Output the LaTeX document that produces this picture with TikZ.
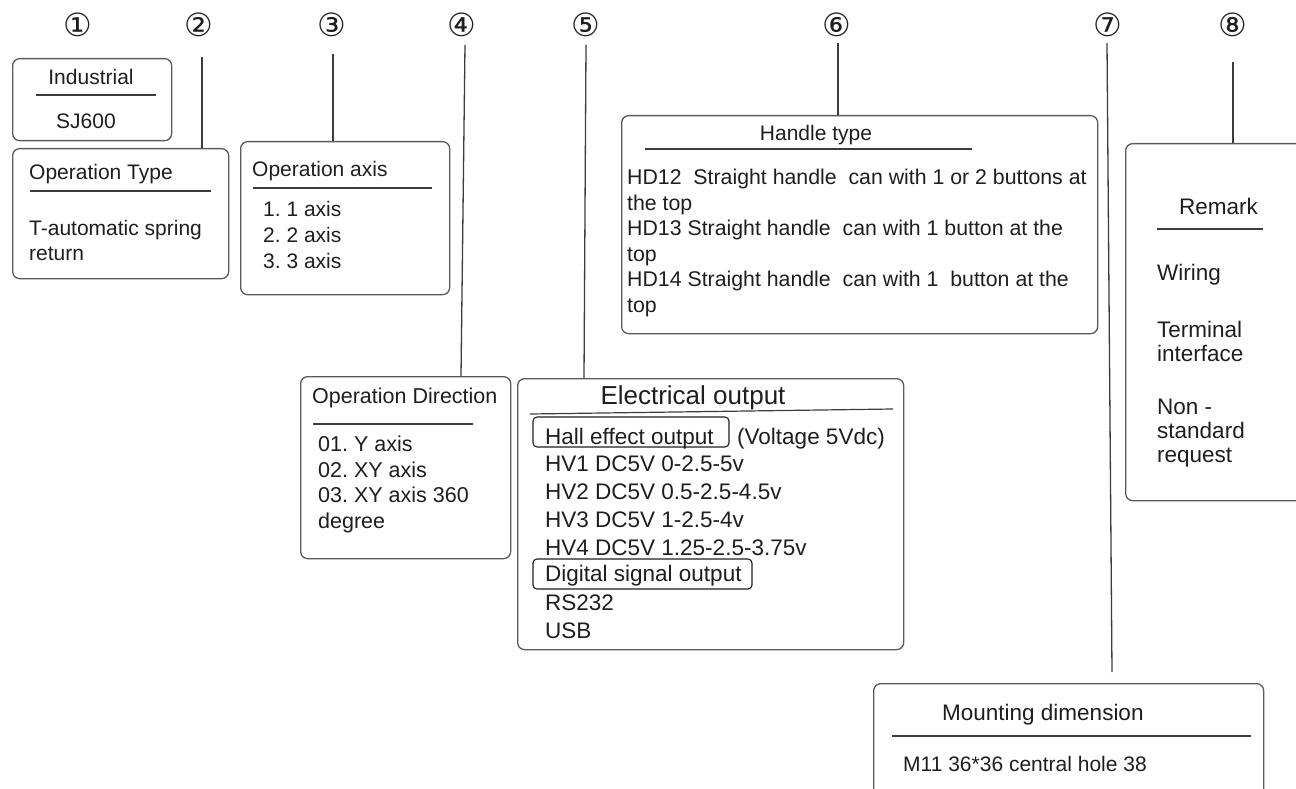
\documentclass[tikz,border=0pt]{standalone}
\usepackage{fontspec}
\setmainfont{Liberation Sans}
\newfontfamily\circfont{DejaVu Sans}
\definecolor{edge}{HTML}{5A5A5A}
\definecolor{ink}{HTML}{1E1E1E}
\definecolor{leadgray}{HTML}{3C3C3C}
\def\fs#1#2{\fontsize{#1}{#2}\selectfont}
\frenchspacing

\tikzset{
  panel/.style={draw=edge, line width=1.3pt, rounded corners=7pt, anchor=north west, inner sep=0pt},
  leader/.style={draw=leadgray, line width=1.3pt},
  divider/.style={draw=leadgray, line width=1.2pt},
  outbox/.style={draw=ink, line width=1.1pt, rounded corners=4pt},
  txt/.style={anchor=base west, inner sep=0pt, text=ink, align=left, font=\fs{21}{26}},
  num/.style={inner sep=0pt, text=ink, font=\circfont\fs{32}{32}},
}

\begin{document}
\begin{tikzpicture}[x=1pt,y=-1pt]
\path[use as bounding box, clip] (0,0) rectangle (1296,789);
% position numbers
\foreach \i/\x/\c in {1/78/①,2/199/②,3/332/③,4/462/④,5/586/⑤,6/837/⑥,7/1108/⑦,8/1233/⑧}
  \node[num] (n\i) at (\x,25) {\c};

% boxes
\node[panel, minimum width=159pt, minimum height=82pt]  (box1) at (12,58)   {};
\node[panel, minimum width=216pt, minimum height=130pt] (box2) at (12,148)  {};
\node[panel, minimum width=209pt, minimum height=153pt] (box3) at (240,141) {};
\node[panel, minimum width=210pt, minimum height=182pt] (box4) at (300,376) {};
\node[panel, minimum width=386pt, minimum height=271pt] (box5) at (517,378) {};
\node[panel, minimum width=476pt, minimum height=218pt] (box6) at (621,115) {};
\node[panel, minimum width=390pt, minimum height=150pt] (box7) at (873,683) {};
\node[panel, minimum width=200pt, minimum height=357pt] (box8) at (1125,143) {};

% 1 - series
\node[txt, anchor=base] (ind) at (91,84.5) {Industrial};
\node[txt, anchor=base] (sj)  at (86,128.5) {SJ600};
\draw[divider] (36,95) -- (156,95);

% 2 - operation type (multi-line texts sit on their last baseline)
\node[txt] (optype) at (29,179.5) {Operation Type};
\draw[divider] (30,191) -- (211,191);
\node[txt, font=\fs{21}{25}] (spring) at (29,260.5) {T-automatic spring\\return};

% 3 - operation axis
\node[txt] (opaxis) at (252,176.5) {Operation axis};
\draw[divider] (253,188) -- (432,188);
\node[txt] (axes) at (263,268.5) {1. 1 axis\\2. 2 axis\\3. 3 axis};

% 4 - operation direction
\node[txt, font=\fs{21.5}{26}] (opdir) at (312,403.5) {Operation Direction};
\draw[divider] (313,424) -- (473,424);
\node[txt, font=\fs{21.5}{25.7}] (dirs) at (318,528.6) {01. Y axis\\02. XY axis\\03. XY axis 360\\degree};

% 5 - electrical output
\node[txt, anchor=base, font=\fs{26}{30}] (elec) at (693,404) {Electrical output};
\draw[divider] (530,414) -- (893,409);
\node[txt, font=\fs{22.5}{27}] (hall) at (545,444) {Hall effect output};
\node[txt, font=\fs{22.5}{27}] (volt) at (737,444) {(Voltage 5Vdc)};
\draw[outbox] (533,417) rectangle (729,447);
\node[txt, font=\fs{22.5}{27.9}] (hv) at (545,555.2)
  {HV1 DC5V 0-2.5-5v\\HV2 DC5V 0.5-2.5-4.5v\\HV3 DC5V 1-2.5-4v\\HV4 DC5V 1.25-2.5-3.75v};
\node[txt, font=\fs{22.5}{27}] (digital) at (545,581) {Digital signal output};
\draw[outbox] (533,559) rectangle (752,589);
\node[txt, font=\fs{22.5}{28}] (ports) at (545,638) {RS232\\USB};

% 6 - handle type
\node[txt, anchor=base] (handle) at (816,141) {Handle type};
\draw[divider] (645,149) -- (972,149);
\node[txt, font=\fs{21.3}{25.5}] (hd) at (627,312)
  {HD12\ \ Straight handle\ \ can with 1 or 2 buttons at\\the top\\%
   HD13 Straight handle\ \ can with 1 button at the\\top\\%
   HD14 Straight handle\ \ can with 1\ \ button at the\\top};

% 7 - mounting dimension
\node[txt, font=\fs{22.5}{27}] (mount) at (942,720) {Mounting dimension};
\draw[divider] (892,736) -- (1251,736);
\node[txt] (m11) at (903,771.5) {M11 36*36 central hole 38};

% 8 - remark
\node[txt, font=\fs{22.5}{27}] (remark) at (1179,214.5) {Remark};
\draw[divider] (1157,229) -- (1263,229);
\node[txt, font=\fs{22.5}{24}] (wiring) at (1157,280.5) {Wiring};
\node[txt, font=\fs{22.5}{24}] (term)   at (1157,361.5) {Terminal\\interface};
\node[txt, font=\fs{22.5}{24}] (nonstd) at (1157,462.5) {Non -\\standard\\request};

% leaders from the numbers down to their boxes
\draw[leader] ([xshift=3pt,yshift=-32pt]n2.center)  -- ([xshift=190pt]box2.north west);
\draw[leader] ([xshift=1pt,yshift=-29pt]n3.center)  -- ([xshift=93pt]box3.north west);
\draw[leader] ([xshift=3pt,yshift=-20pt]n4.center)  -- ([xshift=161pt]box4.north west);
\draw[leader] ([yshift=-20pt]n5.center)             -- ([xshift=67pt]box5.north west);
\draw[leader] ([xshift=1pt,yshift=-18pt]n6.center)  -- ([xshift=217pt]box6.north west);
\draw[leader] ([xshift=-1pt,yshift=-18pt]n7.center) -- ([xshift=239pt,yshift=11pt]box7.north west);
\draw[leader] ([yshift=-37pt]n8.center)             -- ([xshift=108pt]box8.north west);
\end{tikzpicture}
\end{document}
